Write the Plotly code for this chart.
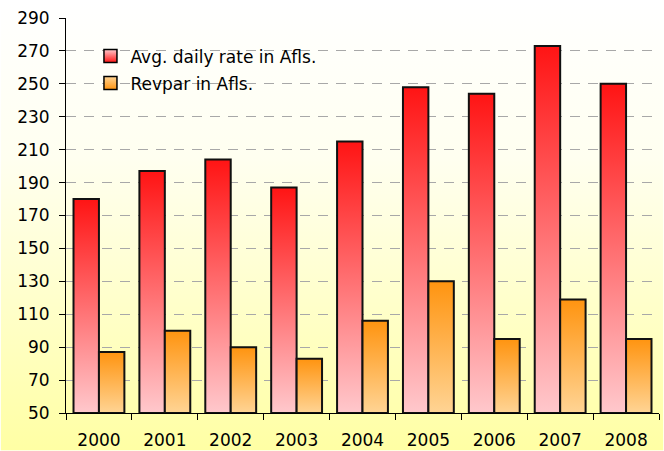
import base64
import plotly.graph_objects as go

years = ["2000", "2001", "2002", "2003", "2004", "2005", "2006", "2007", "2008"]
avg_daily_rate = [180, 197, 204, 187, 215, 248, 244, 273, 250]
revpar = [87, 100, 90, 83, 106, 130, 95, 119, 95]
y_ticks = list(range(50, 291, 20))

series = [
    ("Avg. daily rate in Afls.", avg_daily_rate, "#ffc8cc", "#ff1414", -1),
    ("Revpar in Afls.", revpar, "#ffd494", "#ff9410", 0),
]
BAR_W = 0.386
BASE = 50

W, H = 664, 451
ML, MR, MT, MB = 65.5, 4.5, 17.5, 37.7
PW, PH = W - ML - MR, H - MT - MB

fig = go.Figure()

for name, vals, c_bottom, c_top, off in series:
    for i, v in enumerate(vals):
        x0 = i + off * BAR_W if off < 0 else i
        x1 = x0 + BAR_W
        fig.add_trace(go.Scatter(
            x=[x0, x1, x1, x0, x0], y=[BASE, BASE, v, v, BASE],
            mode="lines", fill="toself",
            fillgradient=dict(type="vertical", colorscale=[[0, c_bottom], [1, c_top]]),
            line=dict(color="#111111", width=2),
            showlegend=False, hoverinfo="skip", legendgroup=name,
        ))
    fig.add_trace(go.Scatter(
        x=[None], y=[None], mode="markers", name=name, legendgroup=name,
        marker=dict(symbol="square", size=13, color=c_bottom,
                    gradient=dict(type="vertical", color=c_top),
                    line=dict(color="black", width=1.5)),
    ))

svg = ('<svg xmlns="http://www.w3.org/2000/svg" width="100" height="100" viewBox="0 0 100 100" '
       'preserveAspectRatio="none"><defs><linearGradient id="g" x1="0" y1="0" x2="0" y2="1">'
       '<stop offset="0" stop-color="#ffffff"/><stop offset="0.35" stop-color="#fffff0"/>'
       '<stop offset="1" stop-color="#ffffa4"/></linearGradient></defs>'
       '<rect width="100" height="100" fill="url(#g)"/></svg>')
src = "data:image/svg+xml;base64," + base64.b64encode(svg.encode()).decode()

fig.add_layout_image(dict(
    source=src, xref="paper", yref="paper",
    x=-ML / PW, y=1 + MT / PH, sizex=W / PW, sizey=H / PH,
    xanchor="left", yanchor="top", sizing="stretch", layer="below",
))

font = dict(family="DejaVu Sans, sans-serif", size=17, color="black")

fig.update_layout(
    width=W, height=H,
    margin=dict(l=ML, r=MR, t=MT, b=MB, autoexpand=False),
    paper_bgcolor="white", plot_bgcolor="rgba(0,0,0,0)",
    font=font,
    showlegend=True,
    legend=dict(x=(90 - ML) / PW, y=1 - (38 - MT) / PH, xanchor="left", yanchor="top",
                bgcolor="rgba(0,0,0,0)", font=font, tracegroupgap=2,
                itemwidth=30),
    xaxis=dict(
        range=[-0.5, len(years) - 0.5],
        tickmode="array", tickvals=list(range(len(years))), ticktext=years,
        ticks="outside", ticklen=6, tickcolor="rgba(0,0,0,0)",
        showline=True, linecolor="black", linewidth=1,
        showgrid=False, zeroline=False, ticklabelstandoff=6,
        minor=dict(tickmode="array", tickvals=[i - 0.5 for i in range(len(years) + 1)],
                   ticks="outside", ticklen=6, tickcolor="black", showgrid=False),
    ),
    yaxis=dict(
        range=[50, 290], tickmode="array", tickvals=y_ticks,
        ticks="outside", ticklen=6, tickcolor="black",
        showline=True, linecolor="black", linewidth=1,
        showgrid=True, gridcolor="#a8a8a8", griddash="10px,8px", gridwidth=1,
        zeroline=False, ticklabelstandoff=6,
    ),
)

fig.write_html("out.html", config={"displayModeBar": False},
               post_script="document.body.style.margin='0';")
